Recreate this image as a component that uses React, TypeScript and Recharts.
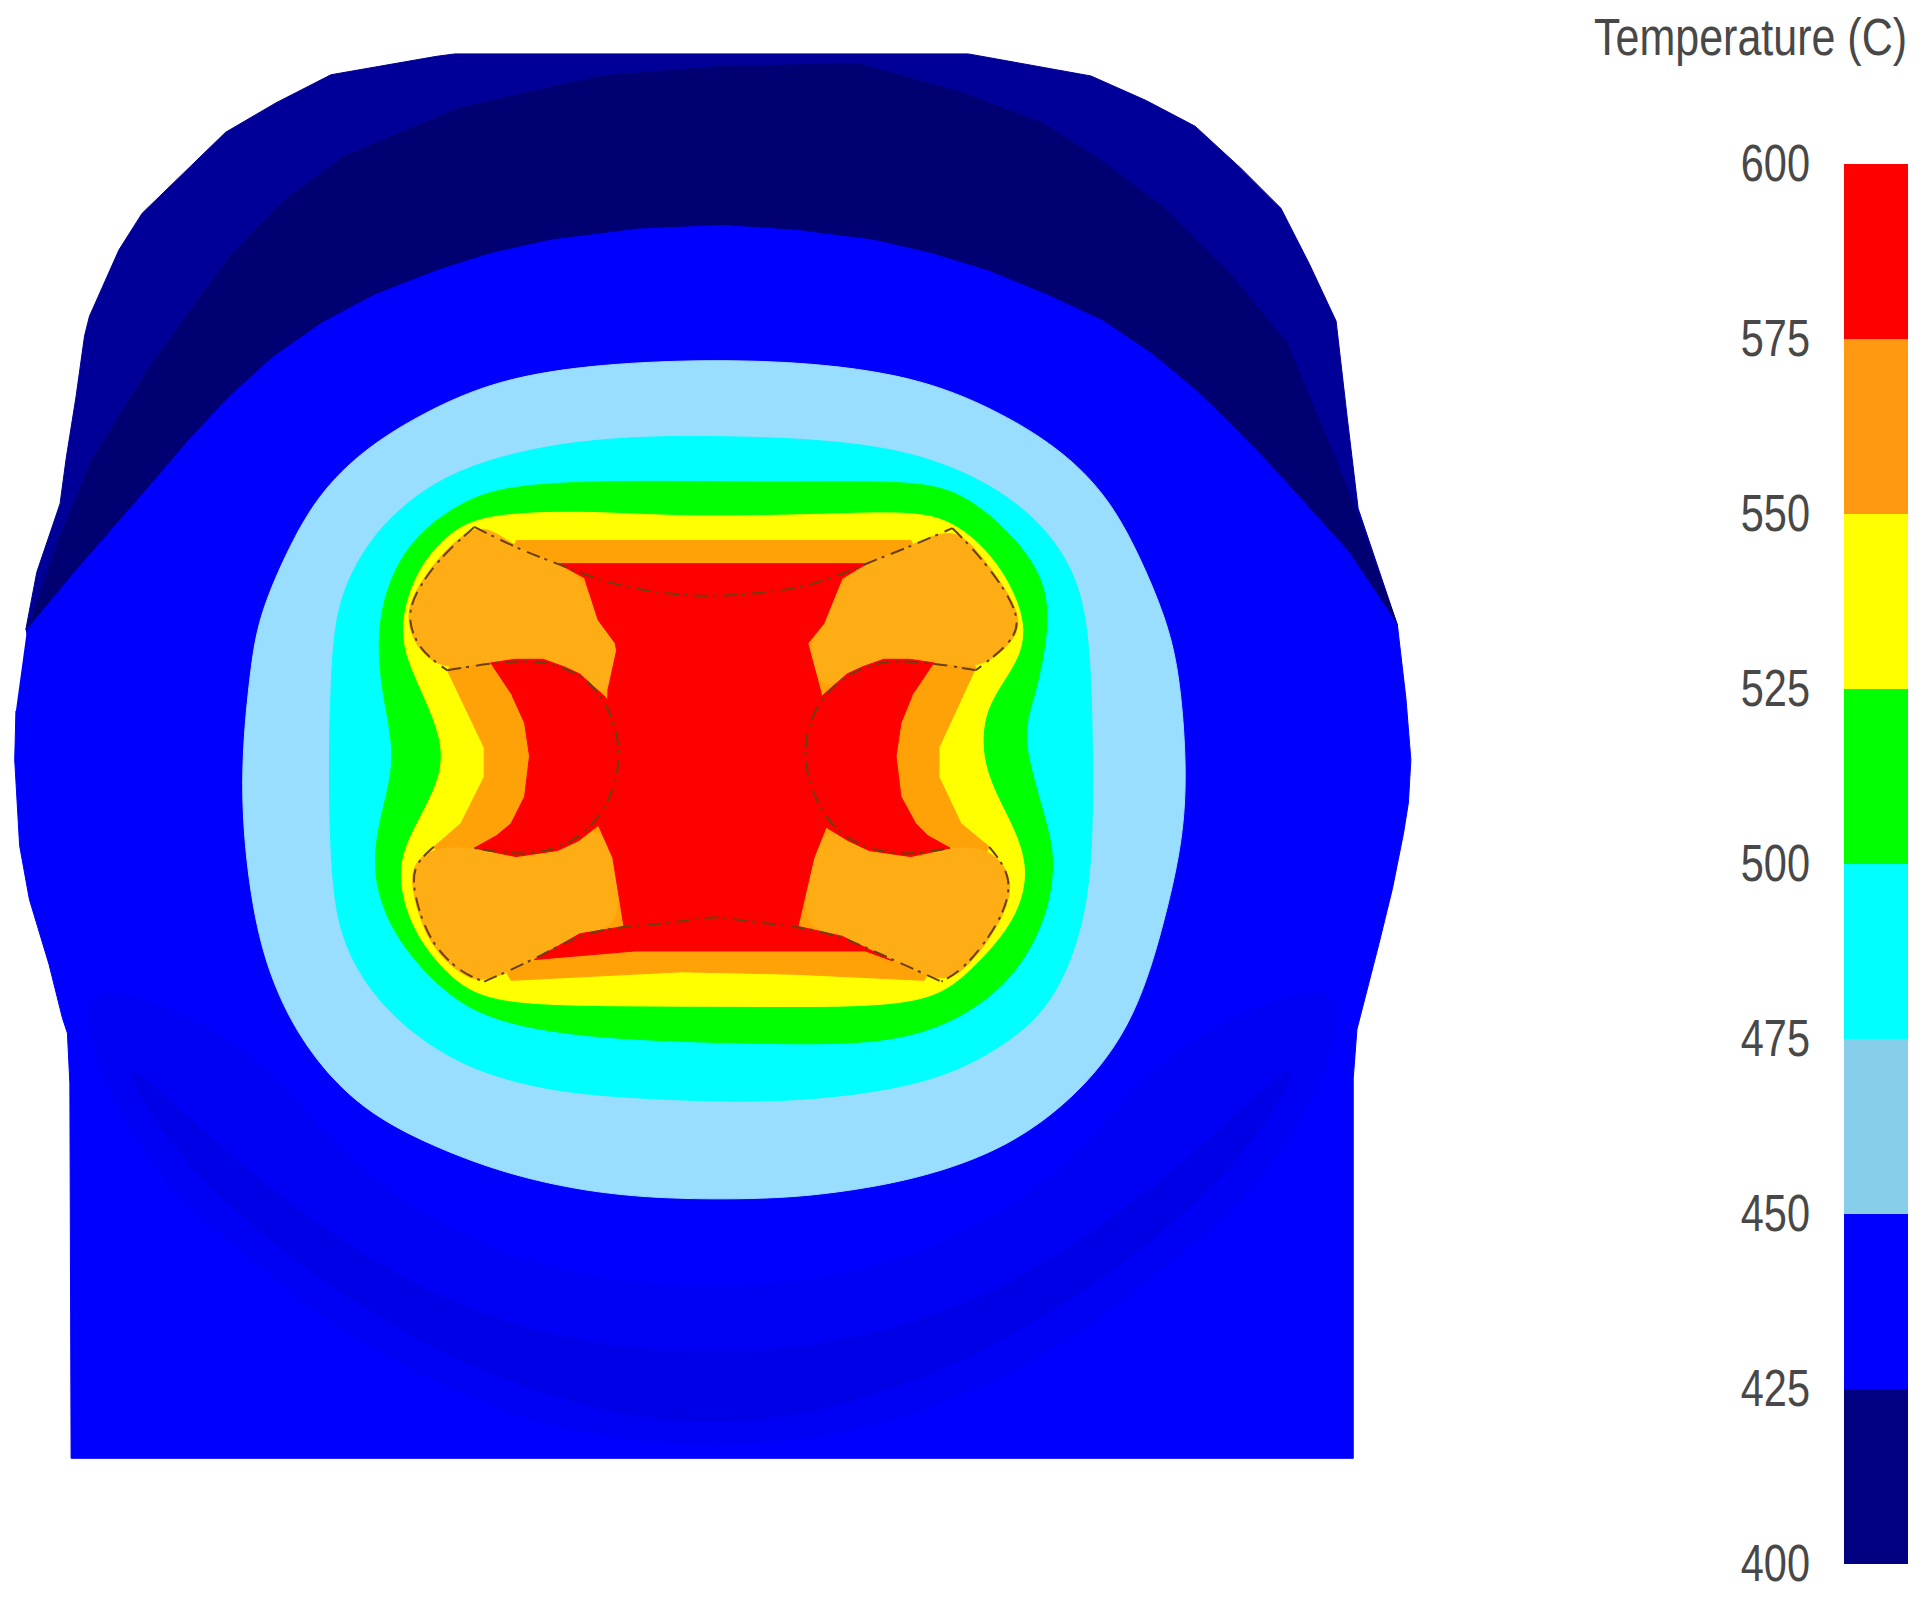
import { Bar, BarChart, Scatter, ScatterChart, XAxis, YAxis } from "recharts"

type Pt = [number, number]

// Contours, in the picture's own units (1568 x 1304)
const silhouette: Pt[] = [
  [21, 514], [30, 467], [49, 411], [54, 374], [62, 324], [69, 274], [73, 258], [97, 204], [116, 174], [150, 141],
  [184, 108], [225, 84], [270, 61], [356, 46], [371, 44], [790, 44], [890, 62], [935, 82], [975, 103], [1012, 137], [1045, 170],
  [1068, 215], [1090, 262], [1099, 340], [1108, 415], [1140, 510], [1142, 560], [1100, 560], [30, 560],
]
const darkBand: Pt[] = [
  [22, 514], [48, 440], [75, 375], [125, 295], [187, 210], [230, 165], [280, 128], [375, 88], [490, 62], [590, 54], [700, 52],
  [780, 74], [850, 100], [900, 132], [950, 170], [1005, 225], [1050, 280], [1100, 400], [1140, 510], [1100, 560], [60, 560],
]
const blueBody: Pt[] = [
  [22, 514], [60, 468], [127, 391], [155, 358], [187, 324], [222, 292], [262, 264], [305, 241], [356, 221], [400, 207],
  [449, 196], [520, 187], [590, 184], [650, 188], [713, 196], [760, 207], [806, 221], [855, 241], [900, 262], [940, 289],
  [975, 318], [1005, 347], [1035, 378], [1100, 450], [1140, 510], [1147, 570], [1151, 620], [1149, 655], [1145, 680],
  [1136, 725], [1125, 770], [1107, 840], [1104, 880], [1104, 1190], [58, 1190], [57, 884], [55, 843], [51, 831], [40, 787],
  [24, 734], [16, 690], [12, 620], [13, 580],
]
const shadeOuter: Pt[] = [
  [62, 790], [75, 853], [91, 896], [127, 953], [158, 990], [198, 1021], [257, 1071], [316, 1109], [395, 1146],
  [474, 1171], [581, 1182], [690, 1171], [770, 1146], [846, 1109], [905, 1071], [965, 1021], [1005, 990],
  [1036, 953], [1072, 896], [1088, 853], [1100, 790], [950, 850], [880, 950], [760, 1030], [581, 1060], [400, 1030],
  [280, 950], [210, 850],
]
const shadeInner: Pt[] = [
  [90, 850], [130, 925], [200, 1000], [320, 1085], [440, 1140], [581, 1170], [720, 1140], [840, 1085], [960, 1000],
  [1030, 925], [1070, 850], [1000, 920], [880, 1020], [740, 1090], [581, 1110], [420, 1090], [280, 1020], [160, 920],
]
const lightBlueZone: Pt[] = [
  [204, 547], [211, 504], [232, 454], [258, 405], [298, 365], [354, 332], [410, 309], [487, 297], [587, 293],
  [676, 297], [750, 309], [808, 332], [864, 365], [904, 405], [930, 454], [951, 504], [962, 547], [968, 620],
  [966, 680], [952, 745], [927, 832], [882, 892], [822, 937], [750, 962], [680, 974], [620, 979], [514, 978],
  [435, 964], [376, 945], [314, 917], [275, 886], [243, 845], [219, 795], [204, 734], [195, 640],
]
const cyanZone: Pt[] = [
  [270, 547], [275, 491], [298, 445], [328, 412], [373, 382], [449, 362], [524, 356], [587, 356], [660, 358],
  [733, 366], [792, 386], [842, 418], [877, 463], [890, 520], [892, 640], [890, 740], [862, 817], [822, 852],
  [770, 880], [700, 894], [620, 900], [534, 897], [455, 892], [385, 874], [338, 845], [306, 814], [283, 777],
  [271, 734], [268, 640],
]
const greenZone: Pt[] = [
  [414, 395], [518, 392], [631, 394], [743, 392], [783, 401], [820, 430], [850, 467], [857, 506], [846, 563],
  [835, 594], [840, 625], [854, 672], [861, 703], [854, 750], [827, 799], [782, 833], [724, 852], [631, 852],
  [518, 849], [443, 842], [385, 827], [348, 796], [318, 758], [303, 712], [310, 666], [324, 619], [312, 569],
  [307, 516], [318, 470], [340, 436], [374, 411],
]
const yellowZone: Pt[] = [
  [399, 419], [481, 417], [556, 422], [668, 420], [743, 417], [779, 425], [815, 458], [838, 506], [832, 540],
  [801, 578], [801, 625], [820, 662], [841, 706], [829, 752], [792, 792], [764, 815], [706, 822], [593, 821],
  [481, 821], [397, 818], [365, 796], [335, 758], [323, 709], [338, 675], [361, 634], [361, 600], [337, 550],
  [325, 516], [338, 467], [367, 433],
]
const orangeZone: Pt[] = [
  [421, 441], [743, 441], [796, 545], [766, 610], [766, 634], [784, 672], [807, 691], [754, 800], [649, 795],
  [556, 793], [417, 800], [354, 691], [376, 672], [395, 634], [395, 610], [365, 547],
]
const lobeTopLeft: Pt[] = [
  [387, 428], [406, 435], [425, 449], [455, 460], [477, 472], [488, 506], [502, 525], [503, 531], [496, 563],
  [490, 566], [473, 550], [443, 538], [406, 538], [365, 548], [341, 532], [330, 503], [341, 478], [360, 452],
]
const lobeTopRight: Pt[] = [
  [777, 429], [740, 447], [706, 460], [687, 472], [672, 509], [659, 525], [670, 566], [691, 550], [721, 538], [762, 538],
  [797, 548], [826, 525], [834, 506], [819, 478], [797, 449],
]
const lobeBottomLeft: Pt[] = [
  [354, 691], [387, 692], [406, 697], [443, 698], [470, 687], [488, 673], [500, 700], [509, 756], [473, 762],
  [436, 783], [395, 803], [375, 795], [349, 770], [336, 728], [336, 705],
]
const lobeBottomRight: Pt[] = [
  [807, 691], [773, 692], [751, 698], [721, 698], [694, 687], [674, 675], [664, 700], [651, 756], [687, 764],
  [728, 783], [768, 803], [789, 791], [819, 750], [828, 716],
]
const redCore: Pt[] = [
  [455, 460], [707, 460], [687, 472], [672, 509], [659, 525], [670, 566], [668, 606], [668, 634], [674, 675],
  [664, 700], [651, 756], [687, 764], [728, 784], [706, 776], [518, 776], [436, 783], [473, 762], [509, 756],
  [500, 700], [488, 673], [495, 634], [495, 606], [496, 563], [503, 531], [502, 525], [488, 506], [477, 472],
]
const crescentLeft: Pt[] = [
  [400, 541], [420, 538], [443, 538], [460, 544], [473, 550], [494, 569], [506, 590], [511, 618], [507, 645], [490, 672],
  [472, 686], [455, 694], [421, 699], [387, 692], [405, 682], [417, 672], [428, 650], [432, 617], [428, 590], [418, 568],
]
const crescentRight: Pt[] = [
  [762, 541], [742, 538], [721, 538], [704, 544], [691, 550], [666, 572], [655, 590], [651, 618], [655, 645], [674, 675],
  [692, 686], [709, 694], [743, 699], [775, 692], [757, 682], [747, 672], [735, 650], [731, 617], [735, 590], [744, 568],
]

// Thin dashed outlines round the inner parts
const edgeTop: Pt[] = [[387, 430], [425, 449], [455, 460], [500, 478], [560, 487], [600, 486], [660, 480], [706, 460], [745, 445], [777, 431]]
const edgeBottom: Pt[] = [[395, 801], [436, 783], [473, 762], [509, 756], [560, 752], [582, 747], [610, 752], [651, 756], [687, 764], [728, 783], [768, 801]]
const edgeLeft: Pt[] = [[365, 547], [400, 541], [443, 538], [473, 550], [494, 569], [511, 618], [490, 672], [455, 694], [421, 698], [387, 692]]
const edgeRight: Pt[] = [[796, 547], [762, 541], [721, 538], [691, 550], [666, 572], [651, 618], [674, 675], [709, 694], [743, 698], [775, 692]]
const edgeLobeLeft: Pt[] = [[387, 430], [361, 453], [342, 478], [331, 503], [342, 531], [365, 547]]
const edgeLobeRight: Pt[] = [[777, 431], [796, 450], [818, 478], [833, 506], [825, 525], [796, 547]]
const edgeLowLeft: Pt[] = [[354, 691], [337, 706], [337, 728], [350, 769], [376, 794], [395, 801]]
const edgeLowRight: Pt[] = [[807, 691], [827, 716], [818, 750], [788, 790], [768, 801]]

type Layer = { name: string; points: Pt[]; color: string; smooth?: boolean }

const layers: Layer[] = [
  { name: "silhouette", points: silhouette, color: "#000099" },
  { name: "darkBand", points: darkBand, color: "#000073" },
  { name: "blueBody", points: blueBody, color: "#0000ff" },
  { name: "shadeOuter", points: shadeOuter, color: "#0000f5", smooth: true },
  { name: "shadeInner", points: shadeInner, color: "#0000e6", smooth: true },
  { name: "lightBlue", points: lightBlueZone, color: "#99ddff", smooth: true },
  { name: "cyan", points: cyanZone, color: "#00ffff", smooth: true },
  { name: "green", points: greenZone, color: "#00ff00", smooth: true },
  { name: "yellow", points: yellowZone, color: "#ffff00", smooth: true },
  { name: "orange", points: orangeZone, color: "#ffa208" },
  { name: "lobeTL", points: lobeTopLeft, color: "#ffad14", smooth: true },
  { name: "lobeTR", points: lobeTopRight, color: "#ffad14", smooth: true },
  { name: "lobeBL", points: lobeBottomLeft, color: "#ffad14", smooth: true },
  { name: "lobeBR", points: lobeBottomRight, color: "#ffad14", smooth: true },
  { name: "red", points: redCore, color: "#ff0000" },
  { name: "crescentL", points: crescentLeft, color: "#ff0000" },
  { name: "crescentR", points: crescentRight, color: "#ff0000" },
]
const edges: Pt[][] = [edgeTop, edgeBottom, edgeLeft, edgeRight, edgeLobeLeft, edgeLobeRight, edgeLowLeft, edgeLowRight]

const bandTicks = [400, 425, 450, 475, 500, 525, 550, 575, 600]
const bandColors = ["#000080", "#0000ff", "#87ceeb", "#00ffff", "#00ff00", "#ffff00", "#ff9912", "#ff0000"]
const bandValues = [25, 25, 25, 25, 25, 25, 25, 25]
const scaleStart = 400
const bandRow = [{ name: "T", base: scaleStart, ...Object.fromEntries(bandValues.map((v, i) => [`b${i}`, v])) }]

const toData = (pts: Pt[]) => pts.map(([x, y]) => ({ x, y }))
const noDot = () => <g />

const FONT = "'Liberation Sans', Arial, sans-serif"

function BandTick({ x, y, payload }: any) {
  return (
    <text
      transform={`translate(${x - 4},${y - 1}) scale(1,1.27)`}
      textAnchor="end"
      dominantBaseline="central"
      fontFamily={FONT}
      fontSize={41.5}
      fill="#484848"
    >
      {payload.value}
    </text>
  )
}

function TitleLabel() {
  return (
    <text
      transform="translate(347,55) scale(1,1.22)"
      textAnchor="end"
      fontFamily={FONT}
      fontSize={43}
      fill="#484848"
    >
      Temperature (C)
    </text>
  )
}

export default function App() {
  return (
    <div style={{ position: "absolute", left: 0, top: 0, width: 1922, height: 1598, background: "#fff", overflow: "hidden" }}>
      <div style={{ position: "absolute", left: 0, top: 0 }}>
        <ScatterChart width={1922} height={1598} margin={{ top: 0, right: 0, bottom: 0, left: 0 }}>
          <XAxis type="number" dataKey="x" domain={[0, 1568]} hide allowDataOverflow />
          <YAxis type="number" dataKey="y" domain={[0, 1304]} reversed hide allowDataOverflow />
          {layers.map((l) => (
            <Scatter
              key={l.name}
              data={toData(l.points)}
              shape={noDot}
              fill={l.color}
              line={{ fill: l.color, stroke: l.color, strokeWidth: 1 }}
              lineJointType={l.smooth ? "basisClosed" : "linear"}
              isAnimationActive={false}
            />
          ))}
          {edges.map((e, i) => (
            <Scatter
              key={i}
              data={toData(e)}
              shape={noDot}
              fill="none"
              line={{ fill: "none", stroke: "#6b3f10", strokeWidth: 2, strokeDasharray: "14 5 3 7" }}
              lineJointType="basis"
              isAnimationActive={false}
            />
          ))}
        </ScatterChart>
      </div>
      <div style={{ position: "absolute", left: 1560, top: 0 }}>
        <BarChart
          width={362}
          height={1598}
          data={bandRow}
          barCategoryGap={0}
          margin={{ top: 164, right: 14, bottom: 34, left: 0 }}
        >
          <XAxis dataKey="name" hide />
          <YAxis
            type="number"
            width={284}
            domain={[400, 600]}
            allowDataOverflow
            ticks={bandTicks}
            interval={0}
            tick={BandTick}
            tickLine={false}
            axisLine={false}
            tickSize={28}
            label={{ content: TitleLabel }}
          />
          <Bar dataKey="base" stackId="scale" fill="none" isAnimationActive={false} />
          {bandValues.map((_, i) => (
            <Bar key={i} dataKey={`b${i}`} stackId="scale" fill={bandColors[i]} isAnimationActive={false} />
          ))}
        </BarChart>
      </div>
    </div>
  )
}
